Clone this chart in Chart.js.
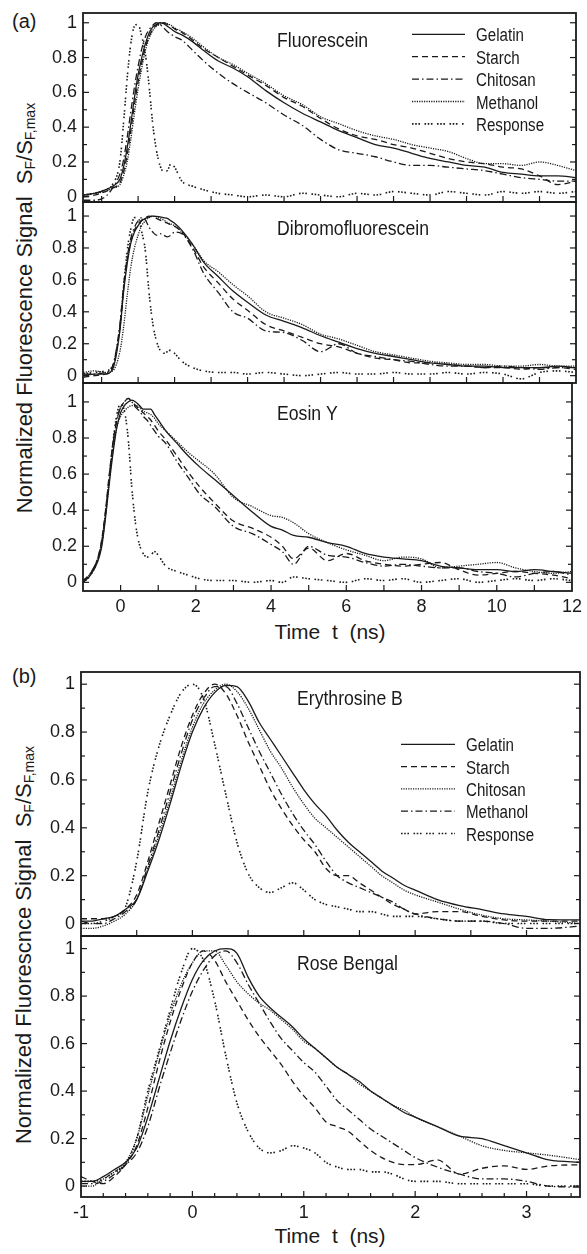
<!DOCTYPE html>
<html>
<head>
<meta charset="utf-8">
<script src="https://cdn.jsdelivr.net/npm/chart.js@4.4.1/dist/chart.umd.min.js"></script>
<style>
  body { margin: 0; background: #fff; width: 587px; height: 1254px; position: relative; overflow: hidden;
         font-family: "Liberation Sans", Arial, sans-serif; color: #1a1a1a; }
  canvas { position: absolute; left: 0; }
  .tag { position: absolute; font-size: 20px; }
  .ytitle { position: absolute; white-space: nowrap; font-size: 22px; transform: translate(-50%, -50%) rotate(-90deg); }
  .ytitle sub { font-size: 14px; vertical-align: -3px; }
  .xtitle { position: absolute; white-space: pre; font-size: 21px; transform: translateX(-50%); }
</style>
</head>
<body>
<div class="tag" style="left:12px;top:10px">(a)</div>
<div class="tag" style="left:12px;top:665px">(b)</div>
<div class="ytitle" style="left:25px;top:308px">Normalized Fluorescence Signal&nbsp; S<sub>F</sub>/S<sub>F,max</sub></div>
<div class="ytitle" style="left:24px;top:945px">Normalized Fluorescnce Signal&nbsp; S<sub>F</sub>/S<sub>F,max</sub></div>
<div class="xtitle" style="left:330px;top:620px">Time  t  (ns)</div>
<div class="xtitle" style="left:330px;top:1224px">Time  t  (ns)</div>

<canvas id="a1" width="587" height="230" style="top:-8px"></canvas>
<canvas id="a2" width="587" height="221" style="top:182px"></canvas>
<canvas id="a3" width="587" height="258" style="top:363px"></canvas>
<canvas id="b1" width="587" height="304" style="top:652px"></canvas>
<canvas id="b2" width="587" height="311" style="top:916px"></canvas>

<script>
// ---- data ----
// (a) upper two plots share a time grid (their axis is shifted a little vs. the bottom one)
const timeA = [-1.5,-1.2,-0.9,-0.7,-0.5,-0.4,-0.3,-0.2,-0.1,0,0.1,0.2,0.3,0.4,0.5,0.6,0.7,0.8,0.9,1,1.2,1.5,1.8,2.2,2.6,3,3.5,4,4.5,5,5.5,6,6.5,7,7.5,8,8.5,9,9.5,10,10.5,11,11.5,12];

const fluGelatin  = [0.01,0.02,0.04,0.06,0.1,0.17,0.28,0.42,0.57,0.7,0.8,0.88,0.94,0.975,0.99,1.0,0.995,0.98,0.965,0.95,0.93,0.89,0.84,0.78,0.74,0.69,0.61,0.54,0.48,0.43,0.38,0.34,0.3,0.28,0.25,0.22,0.2,0.18,0.17,0.14,0.13,0.12,0.12,0.11];
const fluStarch   = [0.0,0.01,0.03,0.05,0.08,0.14,0.24,0.38,0.53,0.66,0.77,0.86,0.92,0.96,0.985,0.995,1.0,0.99,0.98,0.965,0.945,0.9,0.85,0.8,0.75,0.7,0.64,0.57,0.52,0.45,0.39,0.35,0.33,0.3,0.28,0.25,0.22,0.2,0.19,0.17,0.16,0.12,0.07,0.09];
const fluChitosan = [-0.02,-0.02,0.0,0.05,0.13,0.21,0.34,0.49,0.63,0.75,0.85,0.92,0.96,0.985,1.0,0.99,0.97,0.95,0.935,0.92,0.9,0.84,0.78,0.71,0.65,0.6,0.54,0.47,0.41,0.33,0.27,0.25,0.23,0.2,0.18,0.18,0.17,0.16,0.15,0.13,0.11,0.1,0.09,0.09];
const fluMethanol = [0.01,0.02,0.03,0.05,0.07,0.12,0.2,0.33,0.48,0.62,0.74,0.84,0.91,0.955,0.98,0.99,1.0,0.995,0.985,0.97,0.95,0.91,0.86,0.8,0.76,0.71,0.65,0.58,0.53,0.46,0.42,0.38,0.35,0.33,0.3,0.28,0.26,0.22,0.19,0.19,0.18,0.2,0.18,0.15];
const fluResponse = [0.01,0.02,0.04,0.07,0.2,0.42,0.68,0.88,0.98,0.99,0.92,0.82,0.64,0.42,0.27,0.18,0.145,0.15,0.19,0.17,0.09,0.06,0.04,0.02,0.01,0.0,0.01,0.0,0.02,0.01,0.0,0.02,0.01,0.03,0.02,0.01,0.03,0.02,0.01,0.03,0.02,0.03,0.02,0.03];

const dibGelatin  = [0.0,0.01,0.01,0.04,0.28,0.52,0.7,0.83,0.9,0.94,0.97,0.985,0.995,1.0,0.998,0.995,0.99,0.985,0.97,0.955,0.91,0.82,0.71,0.62,0.53,0.46,0.38,0.34,0.3,0.25,0.21,0.17,0.14,0.12,0.1,0.08,0.07,0.06,0.06,0.05,0.05,0.05,0.06,0.05];
const dibStarch   = [-0.01,0.0,0.01,0.05,0.3,0.54,0.72,0.84,0.91,0.95,0.975,0.99,1.0,0.995,0.985,0.975,0.965,0.955,0.945,0.935,0.9,0.8,0.68,0.58,0.48,0.41,0.32,0.28,0.24,0.2,0.18,0.14,0.11,0.1,0.08,0.08,0.07,0.06,0.05,0.05,0.04,0.05,0.05,0.04];
const dibChitosan = [0.01,0.01,0.02,0.06,0.32,0.56,0.74,0.86,0.93,0.97,0.99,0.975,0.93,0.9,0.88,0.89,0.88,0.87,0.88,0.9,0.89,0.79,0.64,0.52,0.4,0.36,0.28,0.27,0.22,0.15,0.2,0.14,0.12,0.1,0.09,0.07,0.06,0.06,0.05,0.06,0.05,0.04,0.05,0.05];
const dibMethanol = [0.02,0.03,0.02,0.03,0.15,0.3,0.5,0.68,0.8,0.88,0.94,0.97,0.99,1.0,0.995,0.985,0.975,0.96,0.95,0.94,0.9,0.82,0.72,0.65,0.57,0.5,0.4,0.36,0.32,0.26,0.23,0.19,0.15,0.13,0.11,0.09,0.08,0.07,0.07,0.06,0.06,0.07,0.06,0.06];
const dibResponse = [0.01,0.02,0.03,0.06,0.3,0.55,0.78,0.92,0.99,0.99,0.9,0.78,0.52,0.33,0.22,0.16,0.14,0.15,0.16,0.14,0.09,0.05,0.03,0.02,0.02,0.01,0.02,0.01,0.0,0.01,0.02,0.01,0.01,0.02,0.01,0.01,0.02,0.01,0.02,0.01,-0.02,0.02,0.03,0.02];

const timeE = [-1,-0.8,-0.6,-0.5,-0.4,-0.3,-0.2,-0.1,0,0.1,0.2,0.3,0.4,0.5,0.6,0.7,0.8,0.9,1,1.2,1.5,1.8,2.1,2.5,3,3.5,4,4.3,4.6,5,5.5,6,6.5,7,7.5,8,8.5,9,9.5,10,10.5,11,11.5,12];
const eosGelatin  = [0.0,0.04,0.12,0.2,0.36,0.55,0.72,0.86,0.94,0.98,1.0,1.01,1.0,0.98,0.96,0.96,0.96,0.93,0.9,0.84,0.77,0.7,0.64,0.57,0.48,0.39,0.31,0.29,0.26,0.25,0.22,0.2,0.16,0.14,0.13,0.12,0.09,0.08,0.07,0.07,0.06,0.07,0.06,0.05];
const eosStarch   = [0.01,0.05,0.14,0.24,0.4,0.6,0.78,0.9,0.97,1.0,1.02,1.0,0.98,0.96,0.94,0.92,0.9,0.87,0.84,0.79,0.7,0.61,0.53,0.44,0.34,0.3,0.25,0.2,0.13,0.19,0.12,0.16,0.12,0.1,0.09,0.1,0.11,0.07,0.04,0.05,0.06,0.05,0.04,0.02];
const eosChitosan = [0.0,0.05,0.14,0.23,0.39,0.59,0.77,0.9,0.97,1.0,1.02,1.0,0.97,0.95,0.92,0.9,0.87,0.84,0.81,0.77,0.67,0.58,0.49,0.42,0.31,0.27,0.21,0.17,0.1,0.2,0.15,0.14,0.11,0.09,0.1,0.09,0.08,0.08,0.06,0.05,0.03,0.05,0.06,0.04];
const eosMethanol = [0.01,0.05,0.13,0.22,0.38,0.57,0.74,0.86,0.92,0.95,0.97,0.98,0.98,0.97,0.95,0.94,0.93,0.91,0.88,0.84,0.78,0.72,0.67,0.6,0.47,0.42,0.37,0.36,0.33,0.27,0.22,0.18,0.15,0.12,0.14,0.13,0.08,0.09,0.1,0.11,0.08,0.06,0.05,0.06];
const eosResponse = [0.0,0.04,0.13,0.22,0.38,0.58,0.78,0.93,0.99,0.95,0.8,0.52,0.32,0.21,0.16,0.14,0.15,0.17,0.15,0.09,0.06,0.04,0.02,0.01,0.01,0.0,0.01,0.0,0.03,0.02,0.01,0.0,0.02,0.01,0.02,0.0,0.01,0.02,0.0,0.01,0.02,0.01,0.02,0.01];

// (b)
const timeB = [-1,-0.9,-0.8,-0.7,-0.6,-0.5,-0.4,-0.3,-0.2,-0.1,0,0.1,0.2,0.3,0.4,0.5,0.6,0.7,0.8,0.9,1,1.1,1.2,1.3,1.4,1.5,1.6,1.7,1.8,1.9,2,2.2,2.4,2.6,2.8,3,3.2,3.5];
const eryGelatin  = [0.01,0.01,0.02,0.03,0.06,0.1,0.22,0.35,0.5,0.66,0.8,0.9,0.965,0.995,0.99,0.93,0.84,0.77,0.7,0.63,0.56,0.5,0.45,0.39,0.34,0.3,0.26,0.22,0.19,0.16,0.14,0.1,0.075,0.058,0.04,0.03,0.016,0.015];
const eryStarch   = [0.02,0.02,0.02,0.03,0.06,0.12,0.26,0.42,0.58,0.74,0.87,0.96,1.0,0.96,0.87,0.76,0.66,0.56,0.48,0.41,0.35,0.3,0.23,0.2,0.2,0.17,0.14,0.11,0.08,0.06,0.04,0.05,0.05,0.03,0.015,0.01,0.01,0.01];
const eryChitosan = [-0.02,-0.02,-0.01,0.01,0.04,0.1,0.23,0.37,0.52,0.68,0.82,0.92,0.975,1.0,0.97,0.9,0.81,0.72,0.65,0.57,0.5,0.44,0.4,0.36,0.32,0.28,0.24,0.2,0.17,0.14,0.12,0.09,0.06,0.035,0.02,0.015,0.01,0.0];
const eryMethanol = [0.01,0.0,0.0,0.02,0.05,0.1,0.24,0.39,0.55,0.71,0.85,0.94,0.99,0.99,0.92,0.82,0.72,0.63,0.54,0.46,0.39,0.33,0.26,0.2,0.17,0.15,0.13,0.11,0.09,0.06,0.04,0.02,0.01,0.01,0.0,-0.02,-0.02,-0.01];
const eryResponse = [0.0,0.0,0.01,0.03,0.07,0.26,0.55,0.74,0.87,0.965,1.0,0.94,0.75,0.54,0.34,0.21,0.15,0.13,0.15,0.17,0.14,0.1,0.08,0.07,0.06,0.05,0.05,0.04,0.03,0.03,0.03,0.02,0.01,0.01,0.0,0.0,0.0,0.0];

const roseGelatin  = [0.02,0.02,0.04,0.07,0.1,0.16,0.29,0.45,0.61,0.75,0.87,0.95,0.99,1.0,0.98,0.88,0.8,0.75,0.71,0.67,0.62,0.58,0.54,0.5,0.47,0.44,0.4,0.37,0.34,0.31,0.29,0.25,0.21,0.2,0.17,0.14,0.11,0.1];
const roseStarch   = [0.04,0.02,0.01,0.04,0.09,0.17,0.33,0.52,0.69,0.83,0.94,0.99,0.95,0.86,0.78,0.7,0.63,0.57,0.51,0.44,0.38,0.33,0.27,0.25,0.23,0.19,0.15,0.12,0.1,0.09,0.09,0.11,0.05,0.075,0.085,0.07,0.085,0.09];
const roseChitosan = [0.0,0.0,0.03,0.06,0.1,0.2,0.38,0.56,0.72,0.85,0.94,0.99,0.99,0.93,0.86,0.81,0.77,0.74,0.7,0.66,0.61,0.58,0.54,0.5,0.47,0.43,0.4,0.37,0.34,0.32,0.29,0.25,0.21,0.17,0.15,0.14,0.13,0.11];
const roseMethanol = [0.01,0.01,0.02,0.05,0.09,0.14,0.25,0.41,0.56,0.7,0.82,0.91,0.97,0.99,0.94,0.85,0.77,0.69,0.62,0.57,0.52,0.48,0.42,0.36,0.32,0.28,0.24,0.21,0.18,0.15,0.12,0.08,0.05,0.03,0.03,0.02,0.0,-0.005];
const roseResponse = [0.02,0.02,0.03,0.06,0.09,0.2,0.4,0.57,0.74,0.9,1.0,0.95,0.78,0.55,0.35,0.23,0.16,0.14,0.15,0.17,0.16,0.14,0.1,0.08,0.07,0.07,0.06,0.06,0.05,0.03,0.02,0.02,0.01,0.01,0.01,0.01,0.0,0.0];

// ticks
const yMajor = [0, 0.2, 0.4, 0.6, 0.8, 1];
const yMinor = [0.1, 0.3, 0.5, 0.7, 0.9];
const xTicksAUpper = [-1,0,1,2,3,4,5,6,7,8,9,10,11];
const xTicksALower = [0,1,2,3,4,5,6,7,8,9,10,11];
const xLabelsA = [0, 2, 4, 6, 8, 10, 12];
const xTicksBUpper = [-0.5,0,0.5,1,1.5,2,2.5,3];
const xMinorBLower = [-0.8,-0.6,-0.4,-0.2,0.2,0.4,0.6,0.8,1.2,1.4,1.6,1.8,2.2,2.4,2.6,2.8,3.2,3.4];
const xLabelsB = [-1, 0, 1, 2, 3];

// ---- styling ----
const INK = '#1a1a1a';
const SANS = '"Liberation Sans", Arial, sans-serif';
const NARROW = 0.84; // the figure uses a condensed face; squeeze the regular one
const DASH = {
  solid: [],
  dashed: [6, 4],
  dashdot: [7, 3, 1.5, 3],
  dotted: [1.2, 1.2],
  response: [1.6, 1.6, 1.6, 1.6, 1.6, 4.5]
};

function series(label, t, v, dash) {
  return {
    label: label,
    data: t.map((x, i) => ({ x: x, y: v[i] })),
    borderColor: INK,
    borderWidth: dash === DASH.response ? 1.6 : 1.3,
    borderDash: dash,
    pointRadius: 0,
    fill: false,
    cubicInterpolationMode: 'monotone'
  };
}

function narrowText(ctx, text, x, y) {
  ctx.save();
  ctx.translate(x, y);
  ctx.scale(NARROW, 1);
  ctx.fillText(text, 0, 0);
  ctx.restore();
}

// frame, inward ticks, in-plot title and legend
const framePlugin = {
  id: 'frame',
  afterDatasetsDraw(chart, args, o) {
    const { ctx, chartArea: a, scales } = chart;
    const seg = (x1, y1, x2, y2) => { ctx.beginPath(); ctx.moveTo(x1, y1); ctx.lineTo(x2, y2); ctx.stroke(); };
    ctx.save();
    ctx.strokeStyle = INK;
    ctx.setLineDash([]);
    ctx.lineWidth = 1.2;
    yMajor.forEach(v => { const y = scales.y.getPixelForValue(v); seg(a.left, y, a.left + 6, y); seg(a.right, y, a.right - 6, y); });
    yMinor.forEach(v => { const y = scales.y.getPixelForValue(v); seg(a.left, y, a.left + 4, y); seg(a.right, y, a.right - 4, y); });
    (o.xMajor || []).forEach(v => { const x = scales.x.getPixelForValue(v); seg(x, a.bottom, x, a.bottom - 6); });
    (o.xMinor || []).forEach(v => { const x = scales.x.getPixelForValue(v); seg(x, a.bottom, x, a.bottom - 4); });
    ctx.lineWidth = 1.8;
    ctx.strokeRect(a.left, a.top, a.right - a.left, a.bottom - a.top);

    ctx.fillStyle = INK;
    ctx.textBaseline = 'alphabetic';
    ctx.font = '21px ' + SANS;
    narrowText(ctx, o.title, o.titleX, a.top + o.titleY);

    if (o.legend) {
      const L = o.legend;
      ctx.font = '18px ' + SANS;
      chart.data.datasets.forEach((ds, i) => {
        const y = a.top + L.y0 + i * L.dy;
        ctx.lineWidth = ds.borderWidth;
        ctx.setLineDash(ds.borderDash);
        seg(L.x0, y, L.x1, y);
        narrowText(ctx, ds.label, L.tx, y + 7);
      });
    }
    ctx.restore();
  }
};

const tickFont = { family: SANS, size: 18 };

function panelChart(id, o) {
  return new Chart(document.getElementById(id), {
    type: 'line',
    data: { datasets: o.datasets },
    options: {
      responsive: false,
      animation: false,
      events: [],
      layout: { padding: { top: o.padTop, bottom: o.padBottom, left: 0, right: o.padRight } },
      plugins: {
        legend: { display: false },
        tooltip: { enabled: false },
        frame: { title: o.title, titleX: o.titleX, titleY: o.titleY, legend: o.legend, xMajor: o.xMajor, xMinor: o.xMinor }
      },
      scales: {
        x: {
          type: 'linear', min: o.xMin, max: o.xMax,
          display: !!o.xLabels,
          grid: { display: false, drawTicks: false },
          border: { display: false },
          ticks: { padding: 5, font: tickFont, color: INK, autoSkip: false, maxRotation: 0, callback: v => String(v) },
          afterBuildTicks: s => { if (o.xLabels) s.ticks = o.xLabels.map(v => ({ value: v })); },
          afterFit: s => { s.height = o.xLabels ? 30 : 0; }
        },
        y: {
          type: 'linear', min: o.yMin, max: o.yMax,
          grid: { display: false, drawTicks: false },
          border: { display: false },
          ticks: { padding: 6, font: tickFont, color: INK, autoSkip: false, callback: v => String(v) },
          afterBuildTicks: s => { s.ticks = yMajor.map(v => ({ value: v })); },
          afterFit: s => { s.width = o.yWidth; }
        }
      }
    },
    plugins: [framePlugin]
  });
}

const legendA = { x0: 412, x1: 465, tx: 476, y0: 21.3, dy: 22.4 };
const legendB = { x0: 401, x1: 455, tx: 466, y0: 72.3, dy: 22.3 };

panelChart('a1', {
  datasets: [
    series('Gelatin', timeA, fluGelatin, DASH.solid),
    series('Starch', timeA, fluStarch, DASH.dashed),
    series('Chitosan', timeA, fluChitosan, DASH.dashdot),
    series('Methanol', timeA, fluMethanol, DASH.dotted),
    series('Response', timeA, fluResponse, DASH.response)
  ],
  xMin: -1.51, xMax: 12, yMin: -0.03, yMax: 1.056,
  padTop: 21, padBottom: 20, padRight: 11, yWidth: 83,
  xMajor: xTicksAUpper, title: 'Fluorescein', titleX: 277, titleY: 33.7, legend: legendA
});

panelChart('a2', {
  datasets: [
    series('Gelatin', timeA, dibGelatin, DASH.solid),
    series('Starch', timeA, dibStarch, DASH.dashed),
    series('Chitosan', timeA, dibChitosan, DASH.dashdot),
    series('Methanol', timeA, dibMethanol, DASH.dotted),
    series('Response', timeA, dibResponse, DASH.response)
  ],
  xMin: -1.51, xMax: 12, yMin: -0.046, yMax: 1.088,
  padTop: 20, padBottom: 20, padRight: 11, yWidth: 83,
  xMajor: xTicksAUpper, title: 'Dibromofluorescein', titleX: 277, titleY: 33
});

panelChart('a3', {
  datasets: [
    series('Gelatin', timeE, eosGelatin, DASH.solid),
    series('Starch', timeE, eosStarch, DASH.dashed),
    series('Chitosan', timeE, eosChitosan, DASH.dashdot),
    series('Methanol', timeE, eosMethanol, DASH.dotted),
    series('Response', timeE, eosResponse, DASH.response)
  ],
  xMin: -1, xMax: 12, yMin: -0.048, yMax: 1.105,
  padTop: 20, padBottom: 0, padRight: 11, yWidth: 83,
  xMajor: xTicksALower, xLabels: xLabelsA, title: 'Eosin Y', titleX: 277, titleY: 37
});

panelChart('b1', {
  datasets: [
    series('Gelatin', timeB, eryGelatin, DASH.solid),
    series('Starch', timeB, eryStarch, DASH.dashed),
    series('Chitosan', timeB, eryChitosan, DASH.dotted),
    series('Methanol', timeB, eryMethanol, DASH.dashdot),
    series('Response', timeB, eryResponse, DASH.response)
  ],
  xMin: -1, xMax: 3.48, yMin: -0.052, yMax: 1.051,
  padTop: 20, padBottom: 20, padRight: 7, yWidth: 81,
  xMajor: xTicksBUpper, title: 'Erythrosine B', titleX: 297, titleY: 33, legend: legendB
});

panelChart('b2', {
  datasets: [
    series('Gelatin', timeB, roseGelatin, DASH.solid),
    series('Starch', timeB, roseStarch, DASH.dashed),
    series('Chitosan', timeB, roseChitosan, DASH.dotted),
    series('Methanol', timeB, roseMethanol, DASH.dashdot),
    series('Response', timeB, roseResponse, DASH.response)
  ],
  xMin: -1, xMax: 3.48, yMin: -0.046, yMax: 1.053,
  padTop: 20, padBottom: 0, padRight: 7, yWidth: 81,
  xMajor: [0, 1, 2, 3], xMinor: xMinorBLower, xLabels: xLabelsB, title: 'Rose Bengal', titleX: 297, titleY: 34
});
</script>
</body>
</html>
